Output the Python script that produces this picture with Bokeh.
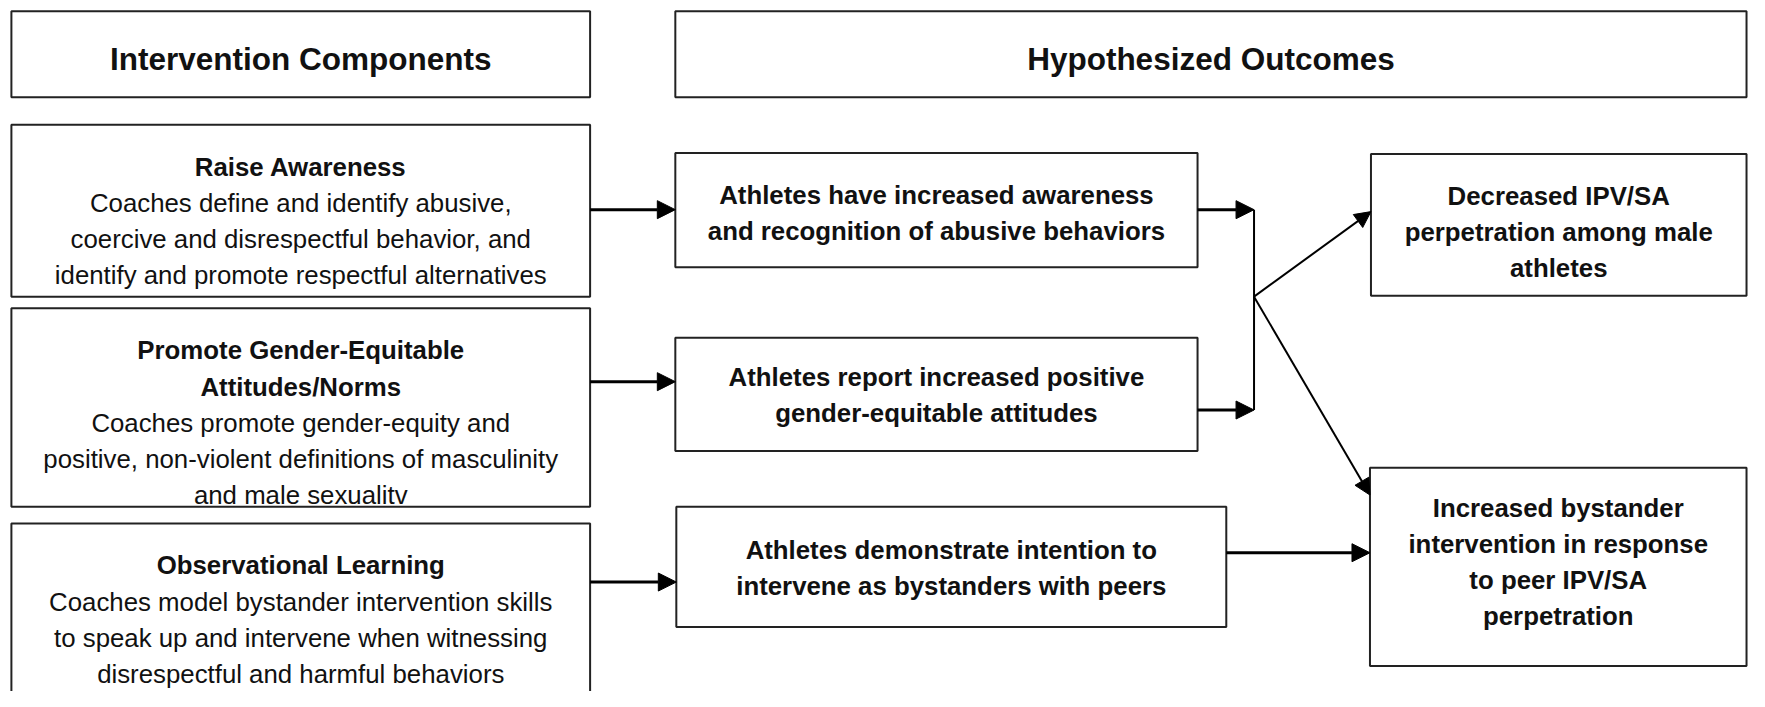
from bokeh.plotting import figure
from bokeh.models import Range1d, Arrow, NormalHead
from bokeh.core.properties import value
from bokeh.embed import file_html
from bokeh.resources import INLINE

# ---------------- content ----------------
header_labels = ["Intervention Components", "Hypothesized Outcomes"]

component_titles = [
    ["Raise Awareness"],
    ["Promote Gender-Equitable", "Attitudes/Norms"],
    ["Observational Learning"],
]
component_texts = [
    ["Coaches define and identify abusive,",
     "coercive and disrespectful behavior, and",
     "identify and promote respectful alternatives"],
    ["Coaches promote gender-equity and",
     "positive, non-violent definitions of masculinity",
     "and male sexualitv"],
    ["Coaches model bystander intervention skills",
     "to speak up and intervene when witnessing",
     "disrespectful and harmful behaviors"],
]
proximal_outcomes = [
    ["Athletes have increased awareness", "and recognition of abusive behaviors"],
    ["Athletes report increased positive", "gender-equitable attitudes"],
    ["Athletes demonstrate intention to", "intervene as bystanders with peers"],
]
distal_outcomes = [
    ["Decreased IPV/SA", "perpetration among male", "athletes"],
    ["Increased bystander", "intervention in response", "to peer IPV/SA", "perpetration"],
]

# ---------------- layout (left, top, right, bottom) in reference pixels ----------------
header_boxes = [(11, 11, 595, 99), (681, 11, 1762, 99)]
component_boxes = [(11, 127, 595, 303), (11, 315, 595, 518), (11, 535, 595, 740)]
proximal_boxes = [(681, 156, 1208, 273), (681, 345, 1208, 461), (682, 518, 1237, 641)]
distal_boxes = [(1383, 157, 1762, 302), (1382, 478, 1762, 681)]
header_baselines = [60, 60]
component_first = [170, 358, 578]
proximal_first = [199, 385, 562]
distal_first = [200, 519]
LINE = 37.0

FONT = value("Liberation Sans")
BODY = value("25.8px")
HEAD = value("31.5px")
TXT = "#111111"
EDGE = "#222222"

W, H = 1765, 707
p = figure(width=1749, height=691, x_range=Range1d(0, W), y_range=Range1d(H, 0),
           output_backend="svg", toolbar_location=None, min_border=0)
p.axis.visible = False
p.grid.visible = False
p.outline_line_color = None
p.background_fill_color = "white"
p.border_fill_color = "white"

all_boxes = header_boxes + component_boxes + proximal_boxes + distal_boxes
p.quad(left=[b[0] for b in all_boxes], right=[b[2] for b in all_boxes],
       top=[b[1] for b in all_boxes], bottom=[b[3] for b in all_boxes],
       fill_color="white", line_color=EDGE, line_width=2)


def put(lines, cx, y0, bold, size):
    xs, ys, ts = [], [], []
    for i, t in enumerate(lines):
        xs.append(cx)
        ys.append(y0 + i * LINE)
        ts.append(t)
    p.text(x=xs, y=ys, text=ts, text_align="center", text_baseline="alphabetic",
           text_font=FONT, text_font_size=size,
           text_font_style="bold" if bold else "normal", text_color=TXT)


for lab, b, y0 in zip(header_labels, header_boxes, header_baselines):
    put([lab], (b[0] + b[2]) / 2, y0, True, HEAD)

for title, desc, b, y0 in zip(component_titles, component_texts, component_boxes, component_first):
    cx = (b[0] + b[2]) / 2
    put(title, cx, y0, True, BODY)
    put(desc, cx, y0 + len(title) * LINE, False, BODY)

for lines, b, y0 in zip(proximal_outcomes, proximal_boxes, proximal_first):
    put(lines, (b[0] + b[2]) / 2, y0, True, BODY)

for lines, b, y0 in zip(distal_outcomes, distal_boxes, distal_first):
    put(lines, (b[0] + b[2]) / 2, y0, True, BODY)

# ---------------- connectors ----------------
def arrow(x0, y0, x1, y1, lw, size=18):
    p.add_layout(Arrow(end=NormalHead(size=size, fill_color="black", line_color="black", line_width=1),
                       x_start=x0, y_start=y0, x_end=x1, y_end=y1,
                       line_width=lw, line_color="black"))

comp_arrow_y = [214, 390, 595]
for y, cb, pb in zip(comp_arrow_y, component_boxes, proximal_boxes):
    arrow(cb[2], y, pb[0], y, 3)

BUS_X = 1265
bus_y = [214, 419]
for y, pb in zip(bus_y, proximal_boxes[:2]):
    arrow(pb[2], y, BUS_X, y, 3)
p.line([BUS_X, BUS_X], bus_y, line_color="black", line_width=2)

JY = 303
arrow(BUS_X, JY, distal_boxes[0][0], 216, 2, 16)
arrow(BUS_X, JY, distal_boxes[1][0], 506, 2, 16)
arrow(proximal_boxes[2][2], 565, distal_boxes[1][0], 565, 3)

open("out.html", "w").write(file_html(p, INLINE))
